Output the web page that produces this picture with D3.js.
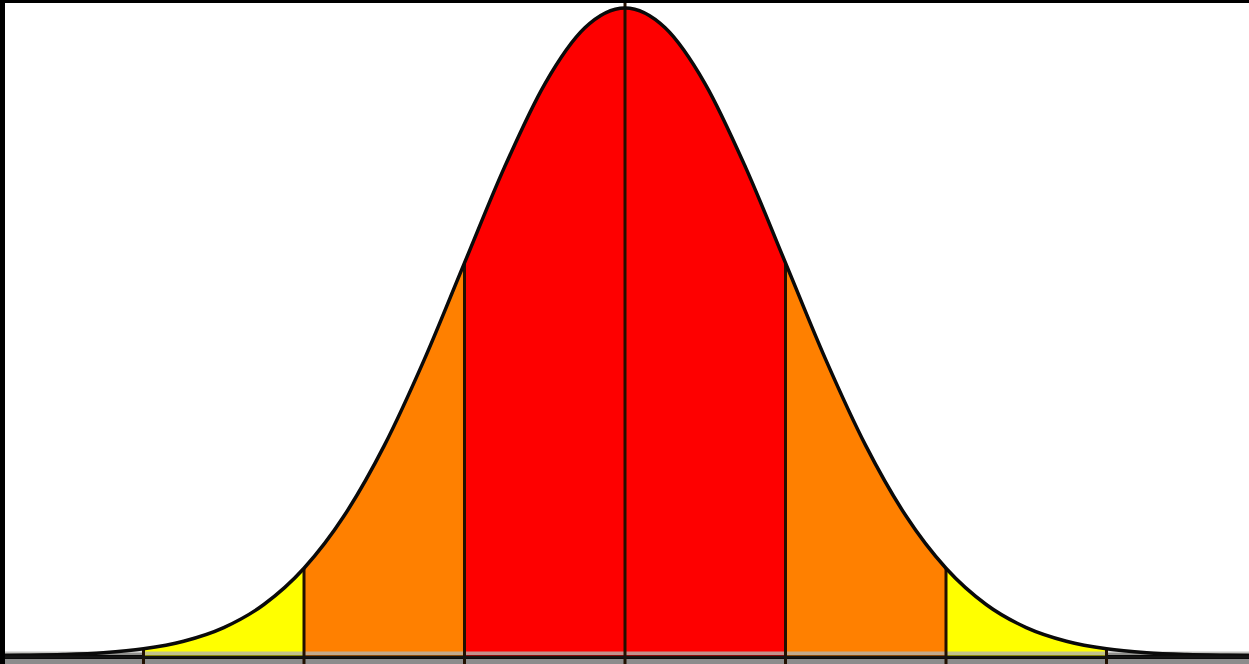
<!DOCTYPE html>
<html>
<head>
<meta charset="utf-8">
<script src="https://cdn.jsdelivr.net/npm/d3@7"></script>
<style>
  html, body { margin: 0; padding: 0; background: #000; }
  svg { display: block; }
</style>
</head>
<body>
<svg id="chart" width="1249" height="664"></svg>
<script>
// z-scores (in standard deviations) sampled along the curve
const zPoints = [-4, -3.75, -3.5, -3.25, -3, -2.75, -2.5, -2.25, -2, -1.75, -1.5, -1.25, -1, -0.75, -0.5, -0.25, 0,
                 0.25, 0.5, 0.75, 1, 1.25, 1.5, 1.75, 2, 2.25, 2.5, 2.75, 3, 3.25, 3.5, 3.75, 4];
// curve height (probability density)
const densityValues = [0.0001, 0.0004, 0.0009, 0.002, 0.0044, 0.0091, 0.0175, 0.0317, 0.054, 0.0863, 0.1295, 0.1826, 0.242, 0.3011, 0.3521, 0.3867, 0.3989,
                       0.3867, 0.3521, 0.3011, 0.242, 0.1826, 0.1295, 0.0863, 0.054, 0.0317, 0.0175, 0.0091, 0.0044, 0.002, 0.0009, 0.0004, 0.0001];
// band boundaries (standard deviations)
const bandStarts = [-3, -2, -1, 0, 1, 2];
const bandEnds   = [-2, -1, 0, 1, 2, 3];
const bandNames  = ["2-3σ", "1-2σ", "0-1σ", "0-1σ", "1-2σ", "2-3σ"];
const dividerZ   = [-3, -2, -1, 0, 1, 2, 3];

const bandColor = { "0-1σ": "#fe0000", "1-2σ": "#ff8000", "2-3σ": "#ffff00" };

const W = 1249, H = 664;
const svg = d3.select("#chart");

const x = d3.scaleLinear().domain([-1, 1]).range([464.5, 785.5]);
const baseY = 656;
const y = d3.scaleLinear().domain([0, 0.3989]).range([baseY, 8]);

const pts = zPoints.map((z, i) => ({ z, d: densityValues[i] }));

// white plotting field inside black frame
svg.append("rect").attr("x", 5).attr("y", 3).attr("width", W - 5).attr("height", 650).attr("fill", "#fff");

const area = d3.area().x(p => x(p.z)).y0(baseY).y1(p => y(p.d)).curve(d3.curveMonotoneX);
const line = d3.line().x(p => x(p.z)).y(p => y(p.d)).curve(d3.curveMonotoneX);

const defs = svg.append("defs");
bandStarts.forEach((s, i) => {
  defs.append("clipPath").attr("id", "band" + i)
    .append("rect")
    .attr("x", x(s)).attr("y", 0)
    .attr("width", x(bandEnds[i]) - x(s)).attr("height", H);
});

const plot = svg.append("g");
const outerClip = defs.append("clipPath").attr("id", "frame");
outerClip.append("rect").attr("x", 5).attr("y", 3).attr("width", W - 5).attr("height", H - 3);

const g = plot.attr("clip-path", "url(#frame)");

bandStarts.forEach((s, i) => {
  g.append("path")
    .datum(pts)
    .attr("d", area)
    .attr("fill", bandColor[bandNames[i]])
    .attr("clip-path", "url(#band" + i + ")");
});

// axis bands at the bottom
g.append("rect").attr("x", 0).attr("y", 651.5).attr("width", W).attr("height", 3.5).attr("fill", "#b4b4b0").attr("opacity", 0.8);
g.append("rect").attr("x", 0).attr("y", 659).attr("width", W).attr("height", 5).attr("fill", "#8c8c8c");

// dividers
const dens = z => densityValues[zPoints.indexOf(z)];
dividerZ.forEach(z => {
  g.append("line")
    .attr("x1", x(z)).attr("x2", x(z))
    .attr("y1", z === 0 ? 0 : y(dens(z)))
    .attr("y2", H)
    .attr("stroke", "#231000")
    .attr("stroke-width", 3);
});

// curve
g.append("path")
  .datum(pts)
  .attr("d", line)
  .attr("fill", "none")
  .attr("stroke", "#0a0a0a")
  .attr("stroke-width", 3.5);

// baseline
g.append("line").attr("x1", 0).attr("x2", W).attr("y1", 657).attr("y2", 657)
  .attr("stroke", "#141414").attr("stroke-width", 3);
</script>
</body>
</html>
